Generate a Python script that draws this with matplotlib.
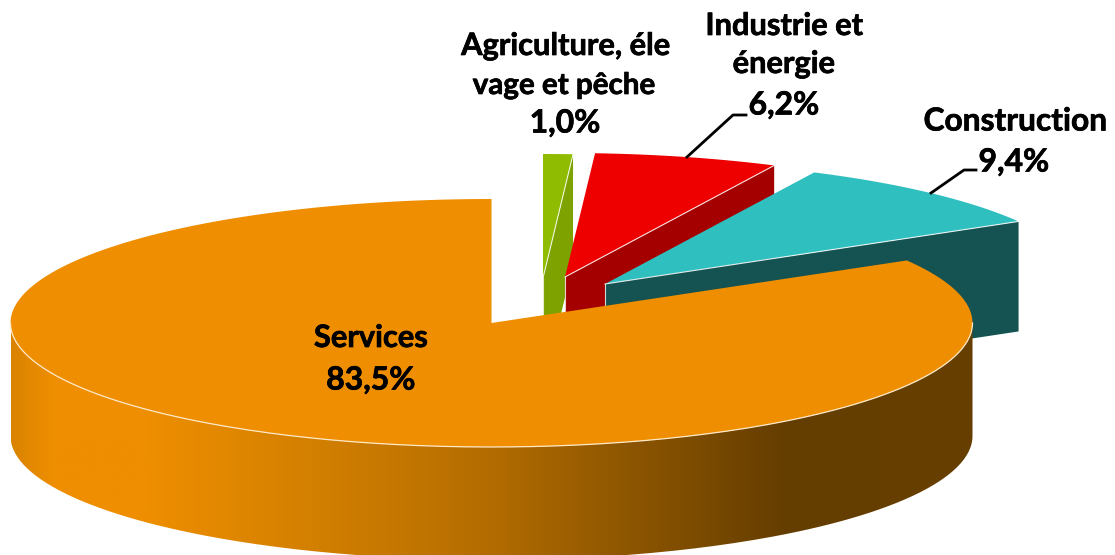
import numpy as np
import matplotlib
matplotlib.use("Agg")
import matplotlib.pyplot as plt
import matplotlib.patheffects as pe
from matplotlib.colors import LinearSegmentedColormap
from matplotlib.patches import PathPatch
from matplotlib.path import Path

# Data
shares = [1.0, 6.2, 9.4, 83.5]
top_colors = ['#8FBC00', '#EE0000', '#2FBFBF', '#EE8E00']
side_colors = ['#7EA300', '#A50000', '#155252', '#663F00']

# Pie geometry, in pixels of the picture
rx = 481
ry = 124
slice_rx = 479
depth = 110
wall_depth = 113
centers = [(543, 278), (565, 277), (605, 284), (491.5, 323)]


def arc(cx, cy, a0, a1, r=rx):
    # angles clockwise from 12 o'clock
    t = np.radians(np.linspace(a0, a1, 200))
    return cx + r * np.sin(t), cy - ry * np.cos(t)


fig = plt.figure(figsize=(11.15, 5.55), dpi=100)
ax = fig.add_axes([0, 0, 1, 1])

angles = np.concatenate([[0], np.cumsum(shares) / np.sum(shares) * 360])

# Exploded slices, back to front
for i in range(3):
    cx, cy = centers[i]
    a1 = angles[i + 1]
    ex = cx + slice_rx * np.sin(np.radians(a1))
    ey = cy - ry * np.cos(np.radians(a1))
    ax.fill([cx, ex, ex, cx], [cy, ey, ey + depth, cy + depth], color=side_colors[i], lw=0, zorder=i * 2 + 1)
    ax.plot([cx, cx], [cy, cy + depth], color='white', lw=0.8, alpha=0.8, zorder=i * 2 + 1)
    x, y = arc(cx, cy, angles[i], a1, slice_rx)
    ax.fill(np.r_[cx, x], np.r_[cy, y], color=top_colors[i], lw=0, zorder=i * 2 + 2)
    ax.plot([cx, ex], [cy, ey], color='white', lw=0.8, alpha=0.85, zorder=i * 2 + 2)

# Services: side wall with the shading, then top
cx, cy = centers[3]
x, y = arc(cx, cy, 90, 270)
side = PathPatch(Path(np.c_[np.r_[x, x[::-1]], np.r_[y, y[::-1] + wall_depth]]), fc='none', lw=0)
ax.add_patch(side)
shade = LinearSegmentedColormap.from_list('shade', [
    (0.0, '#DA8300'), (0.04, '#EE8E00'), (0.145, '#EE8E00'), (0.33, '#D07E00'), (0.447, '#BD7200'),
    (0.51, '#B06A00'), (0.634, '#8F5700'), (0.81, '#643D00'), (1.0, '#663F00')])
im = ax.imshow(np.linspace(0, 1, 512)[None, :], cmap=shade, aspect='auto',
               extent=(cx - rx, cx + rx, cy + ry + wall_depth, cy), zorder=7)
im.set_clip_path(side)

x, y = arc(cx, cy, angles[3], 360)
ax.fill(np.r_[cx, x], np.r_[cy, y], color=top_colors[3], lw=0, zorder=8)
x, y = arc(cx, cy, 90, 270)
ax.plot(x, y, color='#FFE9C8', lw=0.9, zorder=9)

# Leader lines
ax.plot([687, 733, 746], [157, 115, 115], color='black', lw=2, zorder=10)
ax.plot([931, 964, 976], [193, 170, 170], color='black', lw=2, zorder=10)

# Labels
font = dict(family='Lato', weight='bold', ha='center', va='center', color='black', zorder=11,
            path_effects=[pe.withStroke(linewidth=0.5, foreground='black')])
ax.text(566, 46, 'Agriculture, éle', fontsize=22.2, **font)
ax.text(564, 85, 'vage et pêche', fontsize=21.3, **font)
ax.text(565, 123, '1,0%', fontsize=23, **font)
ax.text(784.5, 26, 'Industrie et', fontsize=22.2, **font)
ax.text(784, 64, 'énergie', fontsize=22.2, **font)
ax.text(784, 105, '6,2%', fontsize=23, **font)
ax.text(1015, 121, 'Construction', fontsize=22.8, **font)
ax.text(1014, 162, '9,4%', fontsize=23, **font)
ax.text(371, 338, 'Services', fontsize=22.2, **font)
ax.text(371, 380, '83,5%', fontsize=23, **font)

ax.set_xlim(0, 1115)
ax.set_ylim(555, 0)
ax.axis('off')
fig.savefig('out.png', dpi=100)
